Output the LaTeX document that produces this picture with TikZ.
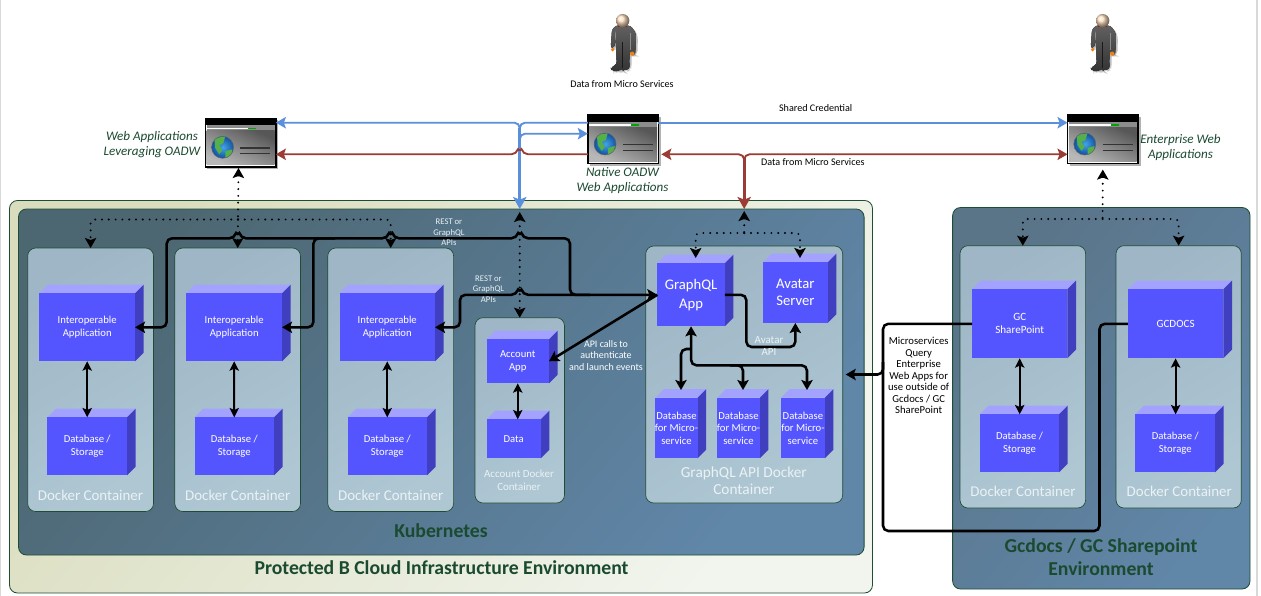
\documentclass[tikz,border=0pt]{standalone}
\usepackage{fontspec}
\setmainfont{Carlito}
\usetikzlibrary{arrows.meta,calc}
\definecolor{edgegreen}{HTML}{1E4D33}
\definecolor{titlegreen}{HTML}{1A4A30}
\definecolor{frontc}{HTML}{5555FF}
\definecolor{topc}{HTML}{A3A3FF}
\definecolor{sidec}{HTML}{3F3FBF}
\definecolor{blueln}{HTML}{5A8FDC}
\definecolor{redln}{HTML}{9A3B36}
\definecolor{lighttext}{HTML}{EAF2F5}
\definecolor{outerA}{HTML}{DADDBD}\definecolor{outerB}{HTML}{F1F5EE}
\definecolor{kubeA}{HTML}{4D6772}\definecolor{kubeB}{HTML}{6086A8}
\definecolor{gcA}{HTML}{5A7488}\definecolor{gcB}{HTML}{6086A8}
\definecolor{contA}{HTML}{9FB6C6}\definecolor{contB}{HTML}{AEC7D3}
\definecolor{globeA}{HTML}{45A5E5}\definecolor{globeB}{HTML}{0F4FA0}
\definecolor{globeG}{HTML}{55B04A}
\tikzset{
 cubeface/.style={fill=frontc,inner sep=0pt,outer sep=0pt,align=center,text=white},
 cubetop/.style={fill=topc},
 cubeside/.style={fill=sidec},
 fsmall/.style={font=\fontsize{8}{9.5}\selectfont},
 fgc/.style={font=\fontsize{8.3}{9.8}\selectfont},
 fbig/.style={font=\fontsize{11.2}{14}\selectfont},
 outerbox/.style={draw=edgegreen,line width=.6pt,rounded corners=6pt,inner sep=0,outer sep=0,top color=outerA,bottom color=outerB,shading angle=50},
 kubebox/.style={draw=edgegreen,line width=.6pt,rounded corners=6pt,inner sep=0,outer sep=0,top color=kubeA,bottom color=kubeB,shading angle=50},
 gcbox/.style={draw=edgegreen,line width=.6pt,rounded corners=6pt,inner sep=0,outer sep=0,top color=gcA,bottom color=gcB,shading angle=50},
 contbox/.style={draw=edgegreen,line width=.5pt,rounded corners=6pt,inner sep=0,outer sep=0,top color=contA,bottom color=contB,shading angle=30},
 browser/.style={draw=black,line width=1.1pt,inner sep=0,outer sep=0},
 clabel/.style={text=lighttext,align=center,fbig},
 slabel/.style={text=lighttext,align=center,font=\fontsize{8.2}{9.4}\selectfont},
 tlabel/.style={text=titlegreen,align=center,font=\bfseries\fontsize{14.8}{17.3}\selectfont},
 ilabel/.style={text=titlegreen,align=center,font=\itshape\fontsize{9.8}{11.5}\selectfont},
 blabel/.style={text=black,align=center,font=\fontsize{7.6}{8.6}\selectfont},
 wlabel/.style={text=white,align=center,font=\fontsize{7.5}{8.6}\selectfont},
 tinylabel/.style={text=lighttext,align=center,font=\fontsize{6.5}{7.8}\selectfont},
 solidln/.style={draw=black,line width=1.9pt,rounded corners=4pt},
 dbl/.style={draw=black,line width=1.5pt,{Stealth[length=7pt,width=7pt,inset=1.5pt]}-{Stealth[length=7pt,width=7pt,inset=1.5pt]}},
 dots/.style={draw=black,line width=1.6pt,line cap=round,dash pattern=on 0pt off 5.1pt,rounded corners=3pt},
 btip/.style={-{Stealth[length=7.5pt,width=8.5pt,inset=1.5pt]}},
 rtip/.style={{Stealth[length=7.5pt,width=8.5pt,inset=1.5pt]}-},
 bothtip/.style={{Stealth[length=7.5pt,width=8.5pt,inset=1.5pt]}-{Stealth[length=7.5pt,width=8.5pt,inset=1.5pt]}},
 blueh/.style={draw=blueln,line width=1.4pt,rounded corners=4pt},
 redh/.style={draw=redln,line width=1.4pt,rounded corners=4pt},
}
% [font style] name x1 y1 x2 y2 depth text
\newcommand\cubebox[8][]{%
 \fill[cubetop] (#3,#4) -- ({#3+#7},{#4-#7}) -- ({#5+#7},{#4-#7}) -- (#5,#4) -- cycle;
 \fill[cubeside] (#5,#4) -- ({#5+#7},{#4-#7}) -- ({#5+#7},{#6-#7}) -- (#5,#6) -- cycle;
 \node[cubeface,#1,minimum width={(#5-#3)*0.75pt},minimum height={(#6-#4)*0.75pt}] (#2) at ({(#3+#5)/2},{(#4+#6)/2}) {#8};
}
% style name x1 y1 x2 y2
\newcommand\panelbox[6]{%
 \node[#1,minimum width={(#5-#3)*0.75pt},minimum height={(#6-#4)*0.75pt}] (#2) at ({(#3+#5)/2},{(#4+#6)/2}) {};
}
% name x y(top-left)
\newcommand\browserbox[3]{%
 \fill[black!30] ({#2+2},{#3+2}) rectangle ({#2+73},{#3+51});
 \node[browser,fill=white,minimum width=52.9pt,minimum height=36.4pt] (#1) at ({#2+35.3},{#3+24.3}) {};
 \begin{scope}[shift={(#2,#3)}]
  \fill[black] (0,0) rectangle (70.6,7);
  \fill[black!45] (1.2,7) rectangle (69.4,12.5);
  \fill[white] (1.5,9.4) rectangle (43,10.8);
  \fill[green!65!black] (43,9.4) rectangle (51,10.8);
  \shade[top color=black!66,bottom color=black!28,shading angle=-25] (1.4,12.5) rectangle (69.2,46);
  \draw[black!80,line width=.8pt] (35,29.7) -- (65,29.7);
  \draw[black!80,line width=.8pt] (35,35.4) -- (65,35.4);
  \begin{scope}
   \clip (17.3,29) circle (11);
   \shade[inner color=globeA,outer color=globeB] (6,18) rectangle (29,40);
   \fill[globeG] (9,20) -- (20,18) -- (18,25) -- (14,27) -- (17,32) -- (14,36) -- (10,30) -- cycle;
   \fill[globeG] (20,33) -- (27,31) -- (26,38) -- (20,40) -- cycle;
  \end{scope}
  \draw[black!60,line width=.4pt] (17.3,29) circle (11);
 \end{scope}
}
% person at shift
\newcommand\personfig[2]{%
 \begin{scope}[shift={(#1,#2)},x=0.25pt,y=-0.25pt]
  \fill[black!25,rounded corners=4pt] (88,64) -- (72,76) -- (68,132) -- (78,134) -- (83,110) -- (86,182) -- (68,192) -- (70,200) -- (86,204) -- (102,196) -- (108,202) -- (126,194) -- (124,176) -- (126,140) -- (131,154) -- (142,154) -- (144,90) -- (128,66) -- cycle;
  \fill[top color=black!62,bottom color=black!80,rounded corners=2pt] (82,60) -- (66,72) -- (62,128) -- (72,130) -- (77,105) -- (80,178) -- (62,188) -- (64,196) -- (80,200) -- (96,192) -- (102,198) -- (120,190) -- (118,172) -- (120,135) -- (125,150) -- (136,150) -- (138,85) -- (122,62) -- cycle;
  \draw[black!90,line width=.5pt] (98,110) -- (98,188);
  \draw[black!45,line width=.5pt] (76,80) -- (77,105);
  \draw[black!45,line width=.5pt] (120,85) -- (120,135);
  \fill[orange!70!brown] (68,134) circle (5.5);
  \fill[orange!70!brown] (127,146) circle (6.5);
  \fill[red!80!black] (84,56) rectangle (112,66);
  \shade[ball color=orange!25!white] (98,47) circle (20);
 \end{scope}
}
% horizontal hop over a vertical line, running rightwards
\newcommand\hopR[2]{-- ({#1-3},#2) .. controls ({#1-2},{#2-4}) and ({#1+2},{#2-4}) .. ({#1+3},#2)}
\begin{document}
\begin{tikzpicture}[x=0.75pt,y=-0.75pt]
\useasboundingbox (0,0) rectangle (1261,596);
\fill[white] (0,0) rectangle (1261,596);
\draw[black!15,line width=.6pt] (0.6,0) -- (0.6,596);
\draw[black!15,line width=.8pt] (1257,0) -- (1257,596);

% environment boxes
\panelbox{outerbox}{prot}{9.5}{200.5}{872.5}{593}
\panelbox{kubebox}{kub}{18.5}{209}{864.1}{555}
\panelbox{gcbox}{gcenv}{952.6}{207.5}{1250}{589}

% containers
\panelbox{contbox}{dc1}{27.7}{248}{153.5}{511.5}
\panelbox{contbox}{dc2}{174.8}{248}{300.5}{511.5}
\panelbox{contbox}{dc3}{327.8}{248}{453.6}{511.5}
\panelbox{contbox}{acc}{475}{317.7}{564.5}{503}
\panelbox{contbox}{gql}{645.7}{246}{842.7}{503}
\panelbox{contbox}{gc}{960}{245.7}{1085.6}{508}
\panelbox{contbox}{gcd}{1116}{245.7}{1241.3}{508}

% cubes
\cubebox[fsmall]{ia1}{39.4}{293.3}{135}{361.3}{8.6}{Interoperable\\Application}
\cubebox[fsmall]{ia2}{186.4}{293.3}{282}{361.3}{8.6}{Interoperable\\Application}
\cubebox[fsmall]{ia3}{339.5}{293.3}{435}{361.3}{8.6}{Interoperable\\Application}
\cubebox[fsmall]{db1}{47.4}{417.3}{127}{475.3}{8.6}{Database /\\Storage}
\cubebox[fsmall]{db2}{194.5}{417.3}{274}{475.3}{8.6}{Database /\\Storage}
\cubebox[fsmall]{db3}{347.5}{417.3}{427}{475.3}{8.6}{Database /\\Storage}
\cubebox[fsmall]{acapp}{486.5}{339.3}{549}{383.3}{8.6}{Account\\App}
\cubebox[fsmall]{acdata}{486.5}{419.3}{540.8}{458.3}{8.6}{Data}
\cubebox[font=\fontsize{11}{14.2}\selectfont]{gapp}{657.3}{263.3}{724.8}{326.3}{8.6}{GraphQL\\App}
\cubebox[font=\fontsize{11}{13}\selectfont]{avatar}{763}{262.3}{827.7}{323}{8.6}{Avatar\\Server}
\cubebox[fsmall]{dbm1}{655.3}{397.7}{697.6}{458.3}{8.6}{Database\\for Micro-\\service}
\cubebox[fsmall]{dbm2}{717.2}{397.7}{759.8}{458.3}{8.6}{Database\\for Micro-\\service}
\cubebox[fsmall]{dbm3}{781}{397.7}{824.8}{458.3}{8.6}{Database\\for Micro-\\service}
\cubebox[fgc]{gcsp}{972}{289.3}{1067.4}{358.3}{8.6}{GC\\SharePoint}
\cubebox[fgc]{gcdocs}{1127.8}{289.3}{1223.4}{358.3}{8.6}{GCDOCS}
\cubebox[fsmall]{db4}{979.9}{414.3}{1059}{472.3}{8.6}{Database /\\Storage}
\cubebox[fsmall]{db5}{1135.4}{414.3}{1215}{472.3}{8.6}{Database /\\Storage}

% persons and browsers
\personfig{590}{5}
\personfig{1070}{5}
\browserbox{b1}{205.3}{118.3}
\browserbox{b2}{587.8}{115}
\browserbox{b3}{1067.5}{115}

% free connector ends
\coordinate (blueJ) at (acc.north |- 0,122.7);
\coordinate (redJ) at (gql.north |- 0,154.3);
\coordinate (kubB) at (kub.north -| acc.north);
\coordinate (kubR) at (kub.north -| gql.north);
\coordinate (j1) at (238,219.5);
\coordinate (j2) at (744.2,233);
\coordinate (j3) at (1102.6,219);
\coordinate (j4) at (883,374.5);
\coordinate (d1) at (681,390);
\coordinate (d2) at (743,390);
\coordinate (d3) at (807,390);

% blue links
\draw[blueln,line width=2.1pt,-{Stealth[length=9pt,width=10pt,inset=2pt]}] ($(blueJ)+(0,5)$) -- (kubB);
\draw[blueh,rtip] (b1.east |- blueJ) -- (blueJ) -- ($(blueJ)+(0,10)$);
\draw[blueh] (b2.west |- blueJ) -- (blueJ) -- ($(blueJ)+(0,10)$);
\draw[blueh,btip] ($(blueJ)+(0,22)$) -- ($(blueJ)+(0,11)$) -- (b2.west |- 0,133.7);
\draw[blueh,btip] (b2.east |- blueJ) -- (b3.west |- blueJ);
% red links
\draw[redh,rtip] (b1.east |- redJ) -- ({519.75-3},154.3) .. controls ({519.75-2},150.3) and ({519.75+2},150.3) .. ({519.75+3},154.3) -- (b2.west |- redJ);
\draw[redh,rtip] ($(b2.east |- redJ)+(3,0)$) -- (redJ) -- ($(redJ)+(0,12)$);
\draw[redh,btip] ($(redJ)+(0,12)$) -- (redJ) -- (b3.west |- redJ);
\draw[redln,line width=2.1pt,-{Stealth[length=9pt,width=10pt,inset=2pt]}] ($(redJ)+(0,3)$) -- (kubR);

% dotted links
\draw[dots,rtip] (238.5,168) -- (j1);
\draw[dots,btip] (j1) -- (dc2.north);
\draw[dots,btip] (j1) -| (dc1.north);
\draw[dots,btip] (j1) -| (dc3.north);
\draw[dots,bothtip] ($(kubB)+(0,3)$) -- (acc.north);
\draw[dots,rtip] ($(kubR)+(0,2)$) -- (j2);
\draw[dots,btip] (j2) -| (695.7,258);
\draw[dots,btip] (j2) -| (800,258);
\draw[dots,rtip] ($(b3.south)+(0,6)$) -- (j3);
\draw[dots,btip] (j3) -| (gc.north);
\draw[dots,btip] (j3) -| (gcd.north);

% solid links
\draw[solidln,bothtip] (ia1.east) -- (166.7,327.3) -- (166.7,238.3) \hopR{237.7}{238.3} \hopR{390.7}{238.3} \hopR{519.75}{238.3} -- (570,238.3) -- (570,294.8) -- (gapp.west);
\draw[solidln,rtip] (ia2.east) -- (313.4,327.3) -- (313.4,238.3) -- (335,238.3);
\draw[solidln,rtip] (ia3.east) -- (460,327.3) -- (460,294.8) \hopR{519.75}{294.8} -- (590,294.8);
\draw[solidln,btip] (gapp.west) -- (acapp.east);
\draw[solidln,btip] (gapp.east) -- (746.3,294.8) -- (746.3,347) -- (avatar.south |- 0,347) -- (avatar.south);
\draw[solidln,bothtip] (gapp.south) -- (691.05,365.3) -- (807,365.3) -- (d3);
\draw[solidln,btip] (691.05,349) -- (681,349) -- (d1);
\draw[solidln,btip] (730,365.3) -- (743,365.3) -- (d2);
\draw[dbl] (ia1.south) -- (db1.north);
\draw[dbl] (ia2.south) -- (db2.north);
\draw[dbl] (ia3.south) -- (db3.north);
\draw[dbl] (acapp.south) -- (acapp.south |- acdata.north);
\draw[dbl] (gcsp.south) -- (gcsp.south |- db4.north);
\draw[dbl] (gcdocs.south) -- (gcdocs.south |- db5.north);
\draw[solidln] (gcsp.west) -- (883,323.8) -- (883,531) -- (1099.5,531) -- (1099.5,323.8) -- (gcdocs.west);
\draw[solidln,btip] (883,362) -- (j4) -- ($(gql.east)+(3,0)$);

% labels
\node[blabel] (t1) at (622,84.5) {Data from Micro Services};
\node[blabel] (t2) at (815.6,108) {Shared Credential};
\node[blabel] (t3) at (812.9,162) {Data from Micro Services};
\node[ilabel] (t4) at (152,144.5) {Web Applications\\Leveraging OADW};
\node[ilabel] (t5) at (622.5,180.5) {Native OADW\\Web Applications};
\node[ilabel] (t6) at (1180.5,147.5) {Enterprise Web\\Applications};
\node[tinylabel] (t7) at (449,232.5) {REST or\\GraphQL\\APIs};
\node[tinylabel] (t8) at (488.5,289) {REST or\\GraphQL\\APIs};
\node[wlabel] (t9) at (606,355.5) {API calls to\\authenticate\\and launch events};
\node[slabel] (t10) at (769,346) {Avatar\\API};
\node[blabel,font=\fontsize{8}{8.6}\selectfont] (t11) at (918.7,375.5) {Microservices\\Query\\Enterprise\\Web Apps for\\use outside of\\Gcdocs / GC\\SharePoint};
\node[clabel] (t12) at (90.5,495) {Docker Container};
\node[clabel] (t13) at (237.7,495) {Docker Container};
\node[clabel] (t14) at (390.7,495) {Docker Container};
\node[slabel] (t15) at (519,480) {Account Docker\\Container};
\node[clabel,font=\fontsize{11.5}{13}\selectfont] (t16) at (743.8,480.5) {GraphQL API Docker\\Container};
\node[clabel] (t17) at (1023,491.5) {Docker Container};
\node[clabel] (t18) at (1179.3,491.5) {Docker Container};
\node[tlabel] (t19) at (441,530.5) {Kubernetes};
\node[tlabel] (t20) at (441.5,568) {Protected B Cloud Infrastructure Environment};
\node[tlabel] (t21) at (1101,557.5) {Gcdocs / GC Sharepoint\\Environment};
\end{tikzpicture}
\end{document}
